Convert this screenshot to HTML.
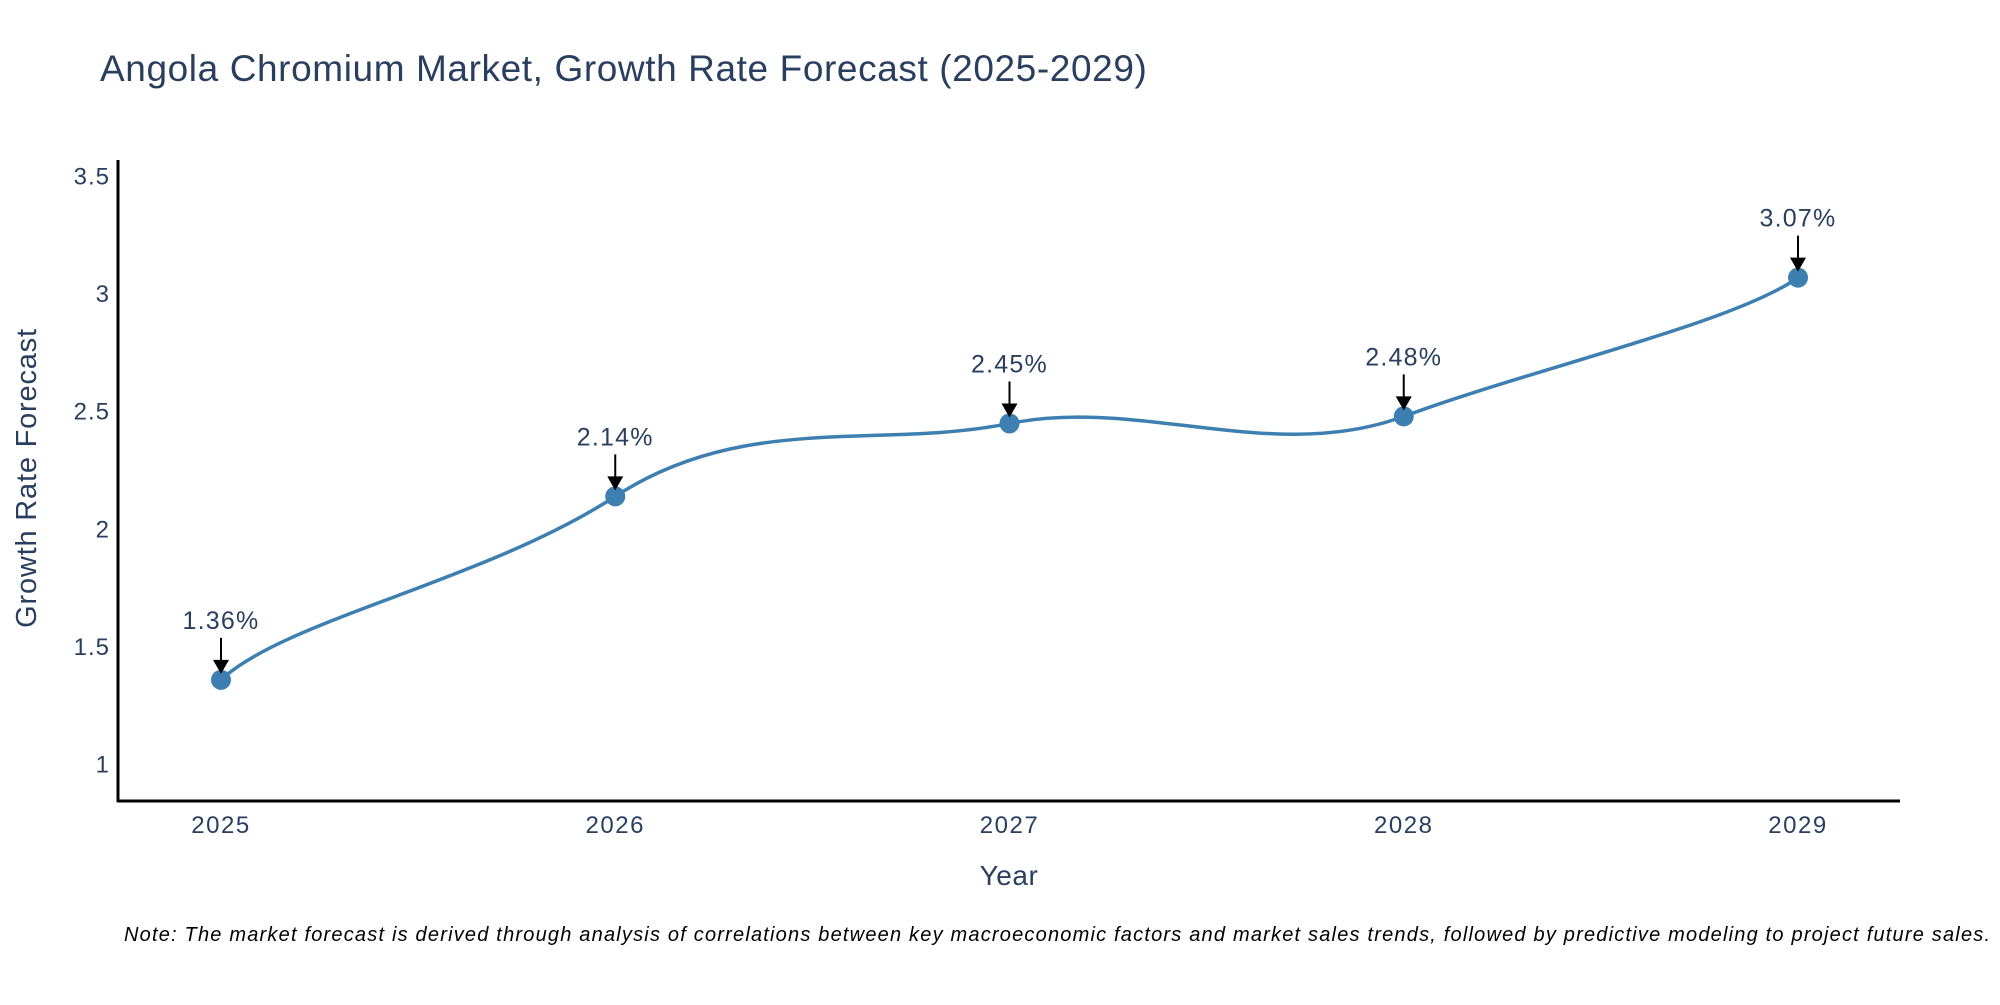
<!DOCTYPE html>
<html><head><meta charset="utf-8"><style>
body{margin:0;background:#fff;}
svg text{font-family:"Liberation Sans","DejaVu Sans",sans-serif;}
</style></head><body>
<svg id="chart" width="2000" height="1000" xmlns="http://www.w3.org/2000/svg">
<rect width="2000" height="1000" fill="#fff"/>
<text x="100" y="81" font-size="37" letter-spacing="0.6" fill="#2a3f5f">Angola Chromium Market, Growth Rate Forecast (2025-2029)</text>
<g id="yticks"></g><g id="xticks"></g>
<line x1="118" y1="160" x2="118" y2="802" stroke="#000" stroke-width="3"/>
<line x1="117" y1="801" x2="1900" y2="801" stroke="#000" stroke-width="3"/>
<path id="line" fill="none" stroke="#3d7fb0" stroke-width="3.5"/>
<g id="points"></g><g id="annots"></g>
<text transform="translate(36,478) rotate(-90)" text-anchor="middle" font-size="29" letter-spacing="0.8" fill="#2a3f5f">Growth Rate Forecast</text>
<text x="1009" y="885" text-anchor="middle" font-size="28" letter-spacing="0.5" fill="#2a3f5f">Year</text>
<text x="124" y="941" font-size="20" letter-spacing="1.2" font-style="italic" fill="#000">Note: The market forecast is derived through analysis of correlations between key macroeconomic factors and market sales trends, followed by predictive modeling to project future sales.</text>
</svg>
<script>
const years=[2025,2026,2027,2028,2029];
const values=[1.36,2.14,2.45,2.48,3.07];
const yTicks=[1,1.5,2,2.5,3,3.5];
const NS="http://www.w3.org/2000/svg";
function xs(i){return 221+i*394.25;}
function ys(v){return 764.5-(v-1)*235.2;}
function mk(tag,attrs,parent,txt){const e=document.createElementNS(NS,tag);for(const k in attrs)e.setAttribute(k,attrs[k]);if(txt!==undefined)e.textContent=txt;document.getElementById(parent).appendChild(e);return e;}
yTicks.forEach(t=>{
 const e=mk('text',{x:110,y:ys(t)+8,'text-anchor':'end','font-size':24,'letter-spacing':1,fill:'#2a3f5f'},'yticks',String(t));
 
 
});
years.forEach((y,i)=>{
 const e=mk('text',{x:xs(i),y:833,'text-anchor':'middle','font-size':24,'letter-spacing':1.5,fill:'#2a3f5f'},'xticks',String(y));
 
 
});
const P=values.map((v,i)=>[xs(i),ys(v)]);
let d=`M${P[0][0]},${P[0][1]}`;const s=0.33;
for(let i=0;i<P.length-1;i++){
 const p0=P[Math.max(i-1,0)],p1=P[i],p2=P[i+1],p3=P[Math.min(i+2,P.length-1)];
 const c1=[p1[0]+(p2[0]-p0[0])*s/2,p1[1]+(p2[1]-p0[1])*s];
 const c2=[p2[0]-(p3[0]-p1[0])*s/2,p2[1]-(p3[1]-p1[1])*s];
 d+=` C${c1[0]},${c1[1]} ${c2[0]},${c2[1]} ${p2[0]},${p2[1]}`;
}
document.getElementById('line').setAttribute('d',d);
P.forEach((p,i)=>{
 const c=mk('circle',{cx:p[0],cy:p[1],r:10,fill:'#3d7fb0'},'points');
 
 
 const l=mk('line',{x1:p[0],y1:p[1]-42,x2:p[0],y2:p[1]-18,stroke:'#000','stroke-width':2},'annots');
 
 
 const a=mk('polygon',{points:`${p[0]-8},${p[1]-20} ${p[0]+8},${p[1]-20} ${p[0]},${p[1]-6}`,fill:'#000'},'annots');
 
 
 const t=mk('text',{x:p[0],y:p[1]-51,'text-anchor':'middle','font-size':25,'letter-spacing':1.2,fill:'#2a3f5f'},'annots',values[i].toFixed(2)+'%');
 
 
});
</script>
</body></html>
